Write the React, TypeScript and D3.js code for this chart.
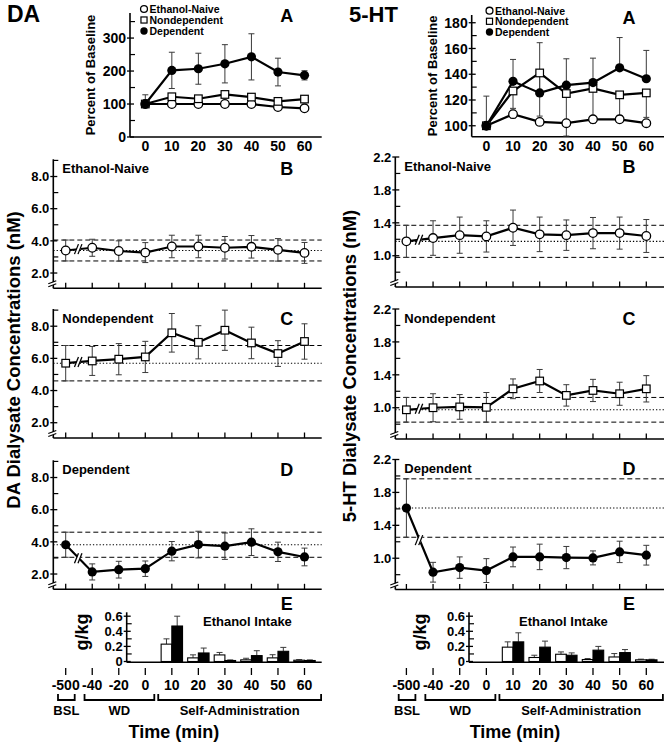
import React from "react";
import * as d3 from "d3";

const FONT = "'Liberation Sans', Arial, Helvetica, sans-serif";

// ---------- categories ----------
const timeLabels = ["-500", "-40", "-20", "0", "10", "20", "30", "40", "50", "60"];
const pctTimes = ["0", "10", "20", "30", "40", "50", "60"];
const intakeTimes = ["10", "20", "30", "40", "50", "60"];
const legendNames = ["Ethanol-Naive", "Nondependent", "Dependent"];

// ---------- DA: percent of baseline (panel A) ----------
const daPctNaive = [100, 100, 100, 100, 100, 91, 87];
const daPctNaiveErr = [0, 0, 0, 0, 0, 0, 0];
const daPctNondep = [100, 122, 116, 129, 121, 108, 115];
const daPctNondepErr = [28, 8, 8, 7, 8, 9, 9];
const daPctDep = [100, 202, 207, 222, 243, 197, 187];
const daPctDepErr = [0, 55, 47, 58, 70, 42, 14];

// ---------- 5-HT: percent of baseline (panel A) ----------
const htPctNaive = [100, 109, 103, 102, 105, 105, 102];
const htPctNaiveErr = [0, 3, 2, 2, 2, 2, 2];
const htPctNondep = [100, 127, 141, 125, 129, 124, 125.5];
const htPctNondepErr = [0, 13.5, 33.5, 33, 27, 16, 19];
const htPctDep = [100, 134.5, 125.5, 131.5, 133.5, 145, 136.5];
const htPctDepErr = [23, 17, 39, 20.5, 19, 23.5, 22];

// ---------- DA dialysate (nM), panels B-D ----------
const daNaive = [3.4, 3.57, 3.37, 3.27, 3.65, 3.65, 3.57, 3.63, 3.44, 3.25];
const daNaiveErr = [0.65, 0.53, 0.63, 0.62, 0.7, 0.7, 0.7, 0.7, 0.7, 0.65];
const daNondep = [5.7, 5.84, 5.95, 6.09, 7.59, 7.0, 7.75, 6.96, 6.3, 7.05];
const daNondepErr = [1.1, 0.9, 0.97, 0.97, 1.2, 1.03, 1.25, 0.98, 0.8, 1.1];
const daDep = [3.82, 2.13, 2.27, 2.33, 3.42, 3.83, 3.73, 3.98, 3.38, 3.06];
const daDepErr = [0.78, 0.5, 0.52, 0.48, 0.6, 0.83, 0.82, 0.83, 0.6, 0.55];

// ---------- 5-HT dialysate (nM), panels B-D ----------
const htNaive = [1.175, 1.215, 1.25, 1.235, 1.34, 1.26, 1.25, 1.275, 1.275, 1.24];
const htNaiveErr = [0.195, 0.21, 0.22, 0.19, 0.215, 0.21, 0.185, 0.19, 0.195, 0.2];
const htNondep = [0.975, 1.0, 1.01, 1.005, 1.23, 1.325, 1.15, 1.21, 1.17, 1.23];
const htNondepErr = [0.15, 0.17, 0.15, 0.18, 0.12, 0.14, 0.13, 0.135, 0.14, 0.16];
const htDep = [1.61, 0.83, 0.886, 0.85, 1.016, 1.016, 1.008, 1.004, 1.077, 1.037];
const htDepErr = [0.355, 0.12, 0.13, 0.145, 0.12, 0.155, 0.135, 0.085, 0.13, 0.12];

// ---------- Ethanol intake (g/kg), panel E ----------
const daIntakeNondep = [0.23, 0.048, 0.087, 0.022, 0.048, 0.017];
const daIntakeNondepErr = [0.07, 0.04, 0.033, 0.021, 0.042, 0.008];
const daIntakeDep = [0.47, 0.113, 0.013, 0.078, 0.135, 0.013];
const daIntakeDepErr = [0.13, 0.065, 0.008, 0.065, 0.052, 0.008];
const htIntakeNondep = [0.19, 0.053, 0.096, 0.026, 0.06, 0.022];
const htIntakeNondepErr = [0.07, 0.03, 0.031, 0.013, 0.045, 0.009];
const htIntakeDep = [0.26, 0.19, 0.083, 0.15, 0.118, 0.022];
const htIntakeDepErr = [0.12, 0.08, 0.031, 0.05, 0.04, 0.008];

// ---------- tick values ----------
const daPctMajor = [0, 100, 200, 300];
const daPctMinor = [50, 150, 250, 350];
const htPctMajor = [100, 120, 140, 160, 180];
const htPctMinor = [110, 130, 150, 170];
const daMajor = [2, 4, 6, 8];
const daMinor = [3, 5, 7, 9];
const htMajor = [1.0, 1.4, 1.8, 2.2];
const htMinor = [0.8, 1.2, 1.6, 2.0];
const intakeMajor = [0, 0.2, 0.4, 0.6];
const intakeMinor = [0.1, 0.3, 0.5];
const intakeTickText = ["0", "0.2", "0.4", "0.6"];

const groups = [
  { label: "BSL", from: "-500", to: "-500" },
  { label: "WD", from: "-40", to: "0" },
  { label: "Self-Administration", from: "10", to: "60" },
];

type Dir = "both" | "up" | "down";

function Marker({ type, cx, cy, s = 1 }: { type: string; cx: number; cy: number; s?: number }) {
  if (type === "circle")
    return <circle cx={cx} cy={cy} r={4.3 * s} fill="#fff" stroke="#000" strokeWidth={1.3} />;
  if (type === "square")
    return <rect x={cx - 3.8 * s} y={cy - 3.8 * s} width={7.6 * s} height={7.6 * s} fill="#fff" stroke="#000" strokeWidth={1.2} />;
  return <circle cx={cx} cy={cy} r={4.6 * s} fill="#000" />;
}

function ErrBar({ cx, yc, yTop, yBot, dir }: { cx: number; yc: number; yTop: number; yBot: number; dir: Dir }) {
  const t = dir === "down" ? yc : yTop;
  const b = dir === "up" ? yc : yBot;
  if (Math.abs(b - t) < 0.5) return null;
  const c = "#3a3a3a";
  return (
    <g stroke={c} strokeWidth={1}>
      <line x1={cx} x2={cx} y1={t} y2={b} />
      {dir !== "down" && <line x1={cx - 3} x2={cx + 3} y1={t} y2={t} />}
      {dir !== "up" && <line x1={cx - 3} x2={cx + 3} y1={b} y2={b} />}
    </g>
  );
}

function YAxis({ ax, y, top, bottom, major, minor, fmt, fs, labels }: any) {
  return (
    <g>
      <line x1={ax} x2={ax} y1={top} y2={bottom} stroke="#000" strokeWidth={1.6} />
      {major.map((v: number, i: number) => (
        <g key={"M" + v}>
          <line x1={ax - 3} x2={ax + 4} y1={y(v)} y2={y(v)} stroke="#000" strokeWidth={1.3} />
          <text x={ax - 4} y={y(v) + fs * 0.36} textAnchor="end" fontSize={fs} fontWeight="bold" fontFamily={FONT}>
            {labels ? labels[i] : fmt(v)}
          </text>
        </g>
      ))}
      {minor.map((v: number) => (
        <line key={"m" + v} x1={ax} x2={ax + 5} y1={y(v)} y2={y(v)} stroke="#000" strokeWidth={1.2} />
      ))}
    </g>
  );
}

function Column({ c }: { c: any }) {
  const x = d3.scalePoint<string>().domain(timeLabels).range(c.xRange);
  const aY = d3.scaleLinear().domain(c.aDomain).range([c.aBottom, c.aTop]);
  const line = d3.line<[number, number]>().x((d) => d[0]).y((d) => d[1]);

  // ----- panel A -----
  const aSeries = c.aSeries as { values: number[]; err: number[]; marker: string; dir: Dir }[];
  const panelA = (
    <g>
      <YAxis ax={c.aAxisX} y={aY} top={c.aTop} bottom={c.aBottom} major={c.aMajor} minor={c.aMinor}
        fmt={d3.format("d")} fs={14} />
      <line x1={c.aAxisX} x2={c.xEnd} y1={c.aBottom} y2={c.aBottom} stroke="#000" strokeWidth={1.6} />
      {pctTimes.map((t) => (
        <text key={t} x={x(t)!} y={c.aBottom + 14} textAnchor="middle" fontSize={14} fontWeight="bold" fontFamily={FONT}>{t}</text>
      ))}
      <text transform={`translate(${c.pctLabelX},${(c.aTop + c.aBottom) / 2}) rotate(-90)`} textAnchor="middle"
        dominantBaseline="central" fontSize={13} fontWeight="bold" fontFamily={FONT}>Percent of Baseline</text>
      {aSeries.map((s, si) =>
        s.values.map((v, i) => (
          <ErrBar key={si + "-" + i} cx={x(pctTimes[i])!} yc={aY(v)} yTop={aY(v + s.err[i])} yBot={aY(v - s.err[i])} dir={s.dir} />
        ))
      )}
      {aSeries.map((s, si) => (
        <path key={"l" + si} d={line(s.values.map((v, i) => [x(pctTimes[i])!, aY(v)]))!} fill="none" stroke="#000" strokeWidth={2.2} />
      ))}
      {aSeries.map((s, si) =>
        s.values.map((v, i) => <Marker key={si + "m" + i} type={s.marker} cx={x(pctTimes[i])!} cy={aY(v)} />)
      )}
      {legendNames.map((n, i) => (
        <g key={n}>
          <Marker type={aSeries[i].marker} cx={c.legendX} cy={c.legendY[i]} s={0.8} />
          <text x={c.legendX + 5.5} y={c.legendY[i] + 3.9} fontSize={10.5} fontWeight="bold" fontFamily={FONT}>{n}</text>
        </g>
      ))}
      <text x={c.xEnd - 35} y={c.aTop + 8.5} textAnchor="middle" fontSize={18} fontWeight="bold" fontFamily={FONT}>A</text>
    </g>
  );

  // ----- panels B-D -----
  const panels = c.panels.map((p: any, pi: number) => {
    const top = c.panelTops[pi];
    const bottom = top + c.panelH;
    const y = d3.scaleLinear().domain(c.yDomain).range([bottom, top]);
    const pts: [number, number][] = p.values.map((v: number, i: number) => [x(timeLabels[i])!, y(v)]);
    const base = p.values[0];
    const sd = p.err[0];
    const mx = (pts[0][0] + pts[1][0]) / 2;
    const my = (pts[0][1] + pts[1][1]) / 2;
    const yb = bottom - 6;
    return (
      <g key={pi}>
        <YAxis ax={c.yAxisX} y={y} top={top} bottom={bottom} major={c.yMajor} minor={c.yMinor} fmt={d3.format(".1f")} fs={13} />
        <polygon points={`${c.yAxisX - 5},${yb + 1.5} ${c.yAxisX + 4},${yb - 1.5} ${c.yAxisX + 4},${yb + 1.5} ${c.yAxisX - 5},${yb + 4.5}`} fill="#fff" />
        <line x1={c.yAxisX - 5} y1={yb + 1.5} x2={c.yAxisX + 3} y2={yb - 1.5} stroke="#000" strokeWidth={1.2} />
        <line x1={c.yAxisX - 5} y1={yb + 4.5} x2={c.yAxisX + 3} y2={yb + 1.5} stroke="#000" strokeWidth={1.2} />
        <line x1={c.yAxisX} x2={c.xEnd} y1={bottom} y2={bottom} stroke="#000" strokeWidth={1.6} />
        {timeLabels.map((t) => (
          <line key={t} x1={x(t)!} x2={x(t)!} y1={bottom} y2={bottom - 5.5} stroke="#000" strokeWidth={1.3} />
        ))}
        <line x1={c.yAxisX} x2={c.xEnd} y1={y(base + sd)} y2={y(base + sd)} stroke="#000" strokeWidth={1} strokeDasharray="5,3" />
        <line x1={c.yAxisX} x2={c.xEnd} y1={y(base - sd)} y2={y(base - sd)} stroke="#000" strokeWidth={1} strokeDasharray="5,3" />
        <line x1={c.yAxisX} x2={c.xEnd} y1={y(base)} y2={y(base)} stroke="#000" strokeWidth={1.1} strokeDasharray="1.3,2" />
        {p.values.map((v: number, i: number) => (
          <ErrBar key={i} cx={pts[i][0]} yc={pts[i][1]} yTop={y(v + p.err[i])} yBot={y(v - p.err[i])} dir="both" />
        ))}
        <path d={line(pts)!} fill="none" stroke="#000" strokeWidth={2.2} />
        <polygon points={`${mx - 4.5},${my + 5} ${mx - 0.5},${my + 5} ${mx + 3.5},${my - 5} ${mx - 0.5},${my - 5}`} fill="#fff" />
        <line x1={mx - 4.5} y1={my + 5} x2={mx - 0.5} y2={my - 5} stroke="#000" strokeWidth={1.3} />
        <line x1={mx - 1} y1={my + 5} x2={mx + 3} y2={my - 5} stroke="#000" strokeWidth={1.3} />
        {pts.map((pt, i) => <Marker key={"m" + i} type={p.marker} cx={pt[0]} cy={pt[1]} />)}
        <text x={c.yAxisX + 9} y={top + 13.5} fontSize={13} fontWeight="bold" fontFamily={FONT}>{p.name}</text>
        <text x={c.xEnd - 35} y={top + 15.5} textAnchor="middle" fontSize={18} fontWeight="bold" fontFamily={FONT}>{p.letter}</text>
      </g>
    );
  });

  // ----- panel E -----
  const eY = d3.scaleLinear().domain([0, 0.649]).range([661.5, 612.5]);
  const bw = 10.7;
  const panelE = (
    <g>
      <YAxis ax={c.eAxisX} y={eY} top={612.3} bottom={662.3} major={intakeMajor} minor={intakeMinor} fs={13} labels={intakeTickText} />
      {intakeTimes.map((t, i) => {
        const cx = x(t)!;
        const w = c.intake.nondep[i], we = c.intake.nondepErr[i];
        const b = c.intake.dep[i], be = c.intake.depErr[i];
        return (
          <g key={t}>
            <ErrBar cx={cx - bw / 2} yc={eY(w)} yTop={eY(w + we)} yBot={eY(w)} dir="up" />
            <ErrBar cx={cx + bw / 2} yc={eY(b)} yTop={eY(b + be)} yBot={eY(b)} dir="up" />
            <rect x={cx - bw} y={eY(w)} width={bw} height={eY(0) - eY(w)} fill="#fff" stroke="#000" strokeWidth={1.1} />
            <rect x={cx} y={eY(b)} width={bw} height={eY(0) - eY(b)} fill="#000" stroke="#000" strokeWidth={1.1} />
          </g>
        );
      })}
      <line x1={c.eAxisX} x2={c.xEnd} y1={662.3} y2={662.3} stroke="#000" strokeWidth={1.6} />
      <text transform={`translate(${c.gkgX},632) rotate(-90)`} textAnchor="middle" dominantBaseline="central"
        fontSize={18} fontWeight="bold" fontFamily={FONT}>g/kg</text>
      <text x={c.intakeLabelX} y={626.4} fontSize={13} fontWeight="bold" fontFamily={FONT}>Ethanol Intake</text>
      <text x={c.xEnd - 35} y={609.5} textAnchor="middle" fontSize={18} fontWeight="bold" fontFamily={FONT}>E</text>
    </g>
  );

  // ----- time axis -----
  const padL = [7.7, 7.7, 13.6];
  const padR = [9, 9, 16.6];
  const timeAxis = (
    <g>
      {timeLabels.map((t) => (
        <g key={t}>
          <line x1={x(t)!} x2={x(t)!} y1={668} y2={675} stroke="#000" strokeWidth={1.3} />
          <text x={x(t)!} y={690} textAnchor="middle" fontSize={14} fontWeight="bold" fontFamily={FONT}>{t}</text>
        </g>
      ))}
      {groups.map((g, gi) => {
        const x1 = x(g.from)! - padL[gi];
        const x2 = x(g.to)! + padR[gi];
        return (
          <g key={g.label}>
            <path d={`M${x1},694 V700 H${x2} V694`} fill="none" stroke="#000" strokeWidth={1.8} />
            <text x={(x1 + x2) / 2} y={715} textAnchor="middle" fontSize={13} fontWeight="bold" fontFamily={FONT}>{g.label}</text>
          </g>
        );
      })}
      <text x={x("10")! + 2} y={738} textAnchor="middle" fontSize={18} fontWeight="bold" fontFamily={FONT}>Time (min)</text>
    </g>
  );

  return (
    <g>
      <text x={c.titleX} y={22} fontSize={c.titleSize} fontWeight="bold" fontFamily={FONT}>{c.title}</text>
      {panelA}
      {panels}
      <text transform={`translate(${c.bigX},${c.bigY}) rotate(-90)`} textAnchor="middle" dominantBaseline="central"
        fontSize={18.5} fontWeight="bold" fontFamily={FONT}>{c.bigLabel}</text>
      {panelE}
      {timeAxis}
    </g>
  );
}

export default function App() {
  const cols = [
    {
      title: "DA", titleX: 7, titleSize: 23,
      xRange: [65.7, 304.5], yAxisX: 53.3, xEnd: 321.7,
      aAxisX: 130, aTop: 13, aBottom: 137, aDomain: [0, 376], aMajor: daPctMajor, aMinor: daPctMinor,
      aSeries: [
        { values: daPctNaive, err: daPctNaiveErr, marker: "circle", dir: "both" },
        { values: daPctNondep, err: daPctNondepErr, marker: "square", dir: "up" },
        { values: daPctDep, err: daPctDepErr, marker: "filled", dir: "both" },
      ],
      pctLabelX: 90, legendX: 144, legendY: [9, 20, 31],
      panelTops: [159.3, 309, 460.3], panelH: 129, yDomain: [1.05, 9.07], yMajor: daMajor, yMinor: daMinor,
      panels: [
        { values: daNaive, err: daNaiveErr, marker: "circle", name: "Ethanol-Naive", letter: "B" },
        { values: daNondep, err: daNondepErr, marker: "square", name: "Nondependent", letter: "C" },
        { values: daDep, err: daDepErr, marker: "filled", name: "Dependent", letter: "D" },
      ],
      bigLabel: "DA Dialysate Concentrations (nM)", bigX: 13, bigY: 360,
      eAxisX: 126.7, gkgX: 81.7, intakeLabelX: 203,
      intake: { nondep: daIntakeNondep, nondepErr: daIntakeNondepErr, dep: daIntakeDep, depErr: daIntakeDepErr },
    },
    {
      title: "5-HT", titleX: 349, titleSize: 22,
      xRange: [406.4, 646.3], yAxisX: 395.3, xEnd: 664,
      aAxisX: 471.7, aTop: 15, aBottom: 136.7, aDomain: [91.5, 186], aMajor: htPctMajor, aMinor: htPctMinor,
      aSeries: [
        { values: htPctNaive, err: htPctNaiveErr, marker: "circle", dir: "both" },
        { values: htPctNondep, err: htPctNondepErr, marker: "square", dir: "down" },
        { values: htPctDep, err: htPctDepErr, marker: "filled", dir: "up" },
      ],
      pctLabelX: 432, legendX: 489.5, legendY: [10.7, 21.3, 32],
      panelTops: [157, 309, 459.5], panelH: 130, yDomain: [0.62, 2.2], yMajor: htMajor, yMinor: htMinor,
      panels: [
        { values: htNaive, err: htNaiveErr, marker: "circle", name: "Ethanol-Naive", letter: "B" },
        { values: htNondep, err: htNondepErr, marker: "square", name: "Nondependent", letter: "C" },
        { values: htDep, err: htDepErr, marker: "filled", name: "Dependent", letter: "D" },
      ],
      bigLabel: "5-HT Dialysate Concentrations (nM)", bigX: 349, bigY: 366,
      eAxisX: 469, gkgX: 420, intakeLabelX: 519,
      intake: { nondep: htIntakeNondep, nondepErr: htIntakeNondepErr, dep: htIntakeDep, depErr: htIntakeDepErr },
    },
  ];
  return (
    <svg width={668} height={747} style={{ position: "absolute", left: 0, top: 0, background: "#fff" }}>
      <rect width={668} height={747} fill="#fff" />
      {cols.map((c, i) => <Column key={i} c={c} />)}
    </svg>
  );
}
